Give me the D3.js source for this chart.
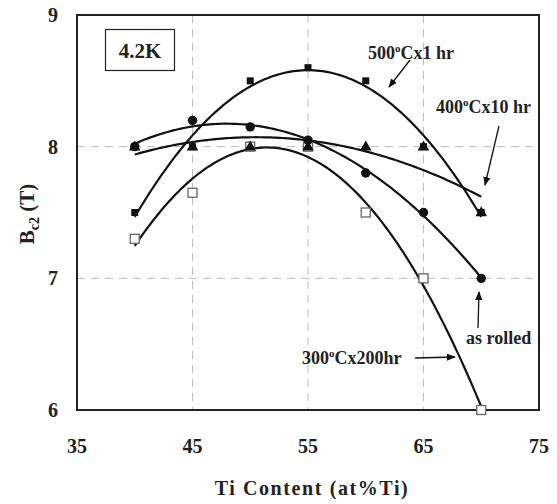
<!DOCTYPE html>
<html><head><meta charset="utf-8">
<script src="https://cdn.jsdelivr.net/npm/d3@7/dist/d3.min.js"></script>
<style>body{margin:0;background:#fff}svg{display:block}</style>
</head><body>
<svg id="c" width="557" height="504" font-family="Liberation Serif, Times New Roman, DejaVu Serif, serif" font-weight="bold"></svg>
<script>
const tiContent = [40, 45, 50, 55, 60, 65, 70];
const asRolled = [8.0, 8.2, 8.15, 8.05, 7.8, 7.5, 7.0];
const t300x200 = [7.3, 7.65, 8.0, 8.0, 7.5, 7.0, 6.0];
const t400x10 = [8.0, 8.0, 8.0, 8.0, 8.0, 8.0, 7.5];
const t500x1 = [7.5, 8.0, 8.5, 8.6, 8.5, 8.0, 7.5];
const xTicks = [35, 45, 55, 65, 75];
const yTicks = [6, 7, 8, 9];

const svg = d3.select("#c");
const x = d3.scaleLinear().domain([35, 75]).range([77, 539]);
const y = d3.scaleLinear().domain([6, 9]).range([410, 15]);

// grid
svg.append("g").selectAll("line").data([45, 55, 65]).join("line")
  .attr("x1", d => x(d)).attr("x2", d => x(d)).attr("y1", y(9)).attr("y2", y(6))
  .attr("stroke", "#bbb").attr("stroke-width", 1).attr("stroke-dasharray", "8,6");
svg.append("g").selectAll("line").data([7, 8]).join("line")
  .attr("y1", d => y(d)).attr("y2", d => y(d)).attr("x1", x(35)).attr("x2", x(75))
  .attr("stroke", "#bbb").attr("stroke-width", 1).attr("stroke-dasharray", "8,6");

// frame
svg.append("rect").attr("x", x(35)).attr("y", y(9)).attr("width", x(75) - x(35)).attr("height", y(6) - y(9))
  .attr("fill", "none").attr("stroke", "#222").attr("stroke-width", 2);

// tick labels
svg.append("g").selectAll("text").data(yTicks).join("text")
  .attr("x", 53).attr("y", d => y(d)).attr("dy", "0.35em").attr("text-anchor", "middle")
  .attr("font-size", 20).attr("fill", "#222").text(d => d);
svg.append("g").selectAll("text").data(xTicks).join("text")
  .attr("x", d => x(d)).attr("y", 446).attr("dy", "0.35em").attr("text-anchor", "middle")
  .attr("font-size", 20).attr("fill", "#222").text(d => d);

// axis titles
svg.append("text").attr("x", 312).attr("y", 495).attr("text-anchor", "middle")
  .attr("font-size", 20).attr("letter-spacing", "1.6px").attr("fill", "#222").text("Ti Content (at%Ti)");
const yt = svg.append("text").attr("transform", "translate(34,214) rotate(-90)").attr("text-anchor", "middle")
  .attr("font-size", 21).attr("fill", "#222");
yt.append("tspan").text("B");
yt.append("tspan").attr("font-size", 14).attr("dy", 5).text("c2");
yt.append("tspan").attr("dy", -5).text(" (T)");

// quadratic least-squares fit
function quadFit(xs, ys) {
  let s = [0,0,0,0,0], t = [0,0,0];
  xs.forEach((xv, i) => { let p = 1; for (let k = 0; k < 5; k++) { s[k] += p; if (k < 3) t[k] += p * ys[i]; p *= xv; } });
  const A = [[s[0], s[1], s[2], t[0]], [s[1], s[2], s[3], t[1]], [s[2], s[3], s[4], t[2]]];
  for (let i = 0; i < 3; i++) { for (let j = i + 1; j < 3; j++) { const f = A[j][i] / A[i][i]; for (let k = i; k < 4; k++) A[j][k] -= f * A[i][k]; } }
  const c = [0, 0, 0];
  for (let i = 2; i >= 0; i--) { let v = A[i][3]; for (let k = i + 1; k < 3; k++) v -= A[i][k] * c[k]; c[i] = v / A[i][i]; }
  return xv => c[0] + c[1] * xv + c[2] * xv * xv;
}
const line = d3.line().x(d => x(d[0])).y(d => y(d[1]));
[asRolled, t300x200, t400x10, t500x1].forEach(series => {
  const f = quadFit(tiContent, series);
  const pts = d3.range(tiContent[0], tiContent[tiContent.length - 1] + 0.001, 0.25).map(v => [v, f(v)]);
  svg.append("path").attr("d", line(pts)).attr("fill", "none").attr("stroke", "#111").attr("stroke-width", 2.2);
});

// markers
svg.append("g").selectAll("rect").data(tiContent.map((v, i) => [v, t300x200[i]])).join("rect")
  .attr("x", d => x(d[0]) - 4.5).attr("y", d => y(d[1]) - 4.5).attr("width", 9).attr("height", 9)
  .attr("fill", "#fff").attr("stroke", "#666").attr("stroke-width", 1.3);
svg.append("g").selectAll("rect").data(tiContent.map((v, i) => [v, t500x1[i]])).join("rect")
  .attr("x", d => x(d[0]) - 3.5).attr("y", d => y(d[1]) - 3.5).attr("width", 7).attr("height", 7)
  .attr("fill", "#111");
const tri = d3.symbol().type(d3.symbolTriangle).size(58);
svg.append("g").selectAll("path").data(tiContent.map((v, i) => [v, t400x10[i]])).join("path")
  .attr("d", tri).attr("transform", d => `translate(${x(d[0])},${y(d[1]) + 0.5})`).attr("fill", "#111");
svg.append("g").selectAll("circle").data(tiContent.map((v, i) => [v, asRolled[i]])).join("circle")
  .attr("cx", d => x(d[0])).attr("cy", d => y(d[1])).attr("r", 4.7).attr("fill", "#111");

// 4.2K box
svg.append("rect").attr("x", 105.5).attr("y", 29.5).attr("width", 69).attr("height", 41)
  .attr("fill", "#fff").attr("stroke", "#222").attr("stroke-width", 1.2);
svg.append("text").attr("x", 140).attr("y", 51).attr("dy", "0.35em").attr("text-anchor", "middle")
  .attr("font-size", 21).attr("fill", "#222").text("4.2K");

// arrowhead
svg.append("defs").append("marker").attr("id", "ah").attr("viewBox", "0 0 10 10").attr("refX", 9).attr("refY", 5)
  .attr("markerWidth", 9).attr("markerHeight", 9).attr("markerUnits", "userSpaceOnUse").attr("orient", "auto")
  .append("path").attr("d", "M0,1 L10,5 L0,9 Z").attr("fill", "#111");

function label(tx, ty, parts) {
  const t = svg.append("text").attr("x", tx).attr("y", ty).attr("font-size", 18).attr("fill", "#222");
  parts.forEach(p => {
    if (p.sup) t.append("tspan").attr("font-size", 11).attr("dy", -7).text(p.t);
    else t.append("tspan").attr("dy", p.after ? 7 : 0).text(p.t);
  });
}
label(368, 59, [{t: "500"}, {t: "o", sup: true}, {t: "Cx1 hr", after: true}]);
label(436, 113, [{t: "400"}, {t: "o", sup: true}, {t: "Cx10 hr", after: true}]);
label(466, 344, [{t: "as rolled"}]);
label(302, 364, [{t: "300"}, {t: "o", sup: true}, {t: "Cx200hr", after: true}]);

const arrows = [[410, 60, 389, 87], [499, 126, 485, 185], [478, 328, 479, 292], [415, 358, 455, 357]];
svg.append("g").selectAll("line").data(arrows).join("line")
  .attr("x1", d => d[0]).attr("y1", d => d[1]).attr("x2", d => d[2]).attr("y2", d => d[3])
  .attr("stroke", "#111").attr("stroke-width", 1.3).attr("marker-end", "url(#ah)");
</script>
</body></html>
